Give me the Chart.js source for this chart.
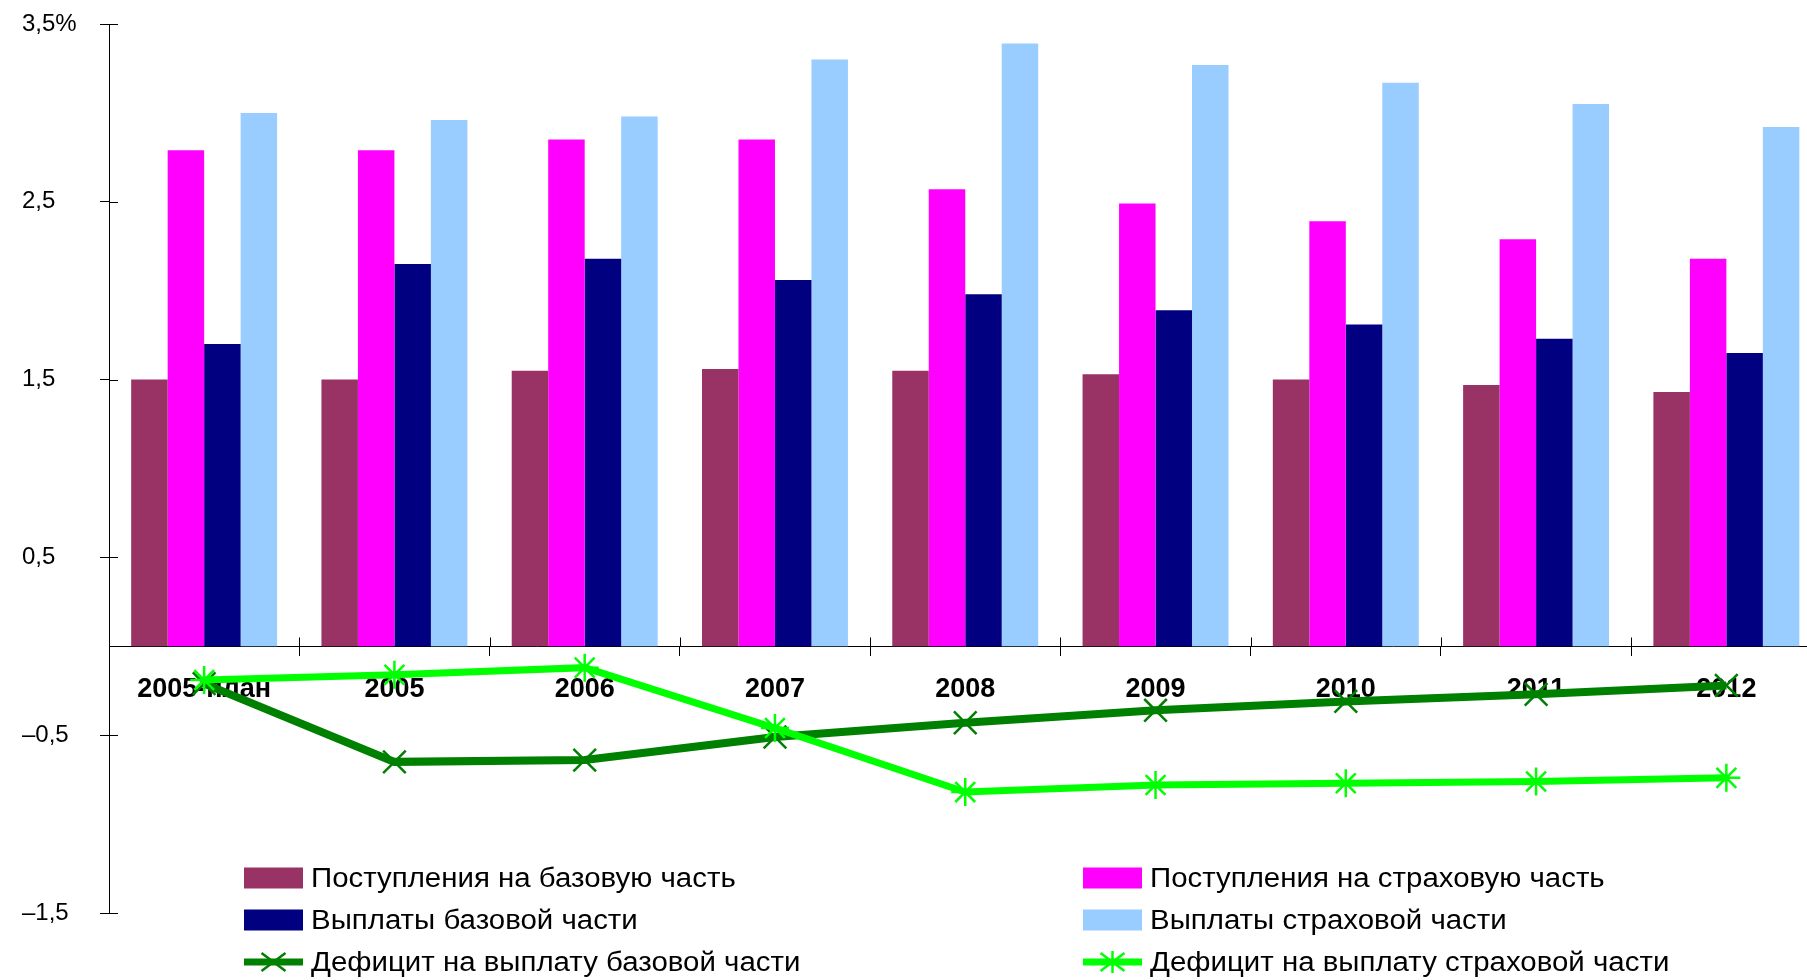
<!DOCTYPE html>
<html lang="ru">
<head>
<meta charset="utf-8">
<title>Поступления и выплаты, % ВВП</title>
<script src="https://cdn.jsdelivr.net/npm/chart.js@4/dist/chart.umd.min.js"></script>
<style>
  html, body { margin: 0; padding: 0; background: #fff; overflow: hidden; }
  #wrap { position: relative; width: 1840px; height: 980px; }
  #legend {
    position: absolute; left: 244px; top: 857px;
    display: grid; grid-template-columns: 839px auto;
    font-family: "Liberation Sans", Arial, sans-serif; font-size: 27px; color: #000;
  }
  .item { display: flex; align-items: center; height: 42px; }
  .item canvas { margin-right: 8px; }
  .item span { display: inline-block; white-space: nowrap; transform: scaleX(1.09); transform-origin: left center; }
</style>
</head>
<body>
<div id="wrap">
  <canvas id="chart" width="1840" height="980"></canvas>
  <div id="legend"></div>
</div>
<script>
const categories = ['2005-план', '2005', '2006', '2007', '2008', '2009', '2010', '2011', '2012'];

const incomeBase       = [1.50, 1.50, 1.55, 1.56, 1.55, 1.53, 1.50, 1.47, 1.43];
const incomeInsurance  = [2.79, 2.79, 2.85, 2.85, 2.57, 2.49, 2.39, 2.29, 2.18];
const payBase          = [1.70, 2.15, 2.18, 2.06, 1.98, 1.89, 1.81, 1.73, 1.65];
const payInsurance     = [3.00, 2.96, 2.98, 3.30, 3.39, 3.27, 3.17, 3.05, 2.92];
const deficitBase      = [-0.21, -0.65, -0.64, -0.51, -0.43, -0.36, -0.31, -0.27, -0.22];
const deficitInsurance = [-0.19, -0.16, -0.12, -0.46, -0.82, -0.78, -0.77, -0.76, -0.74];

const yTickValues = [-1.5, -0.5, 0.5, 1.5, 2.5, 3.5];
const yTickLabels = ['–1,5', '–0,5', '0,5', '1,5', '2,5', '3,5%'];

// short tick marks on the inner side of both axes
const innerTicks = {
  id: 'innerTicks',
  afterDraw(chart) {
    const { ctx, chartArea, scales: { x, y } } = chart;
    const len = 9;
    ctx.save();
    ctx.strokeStyle = '#000';
    ctx.lineWidth = 1;
    ctx.beginPath();
    y.ticks.forEach(t => {
      const py = Math.round(y.getPixelForValue(t.value)) + 0.5;
      ctx.moveTo(chartArea.left, py);
      ctx.lineTo(chartArea.left + len, py);
    });
    const zero = Math.round(y.getPixelForValue(0)) + 0.5;
    for (let i = 0; i <= categories.length; i++) {
      const px = Math.round(x.getPixelForValue(i - 0.5)) + 0.5;
      ctx.moveTo(px, zero);
      ctx.lineTo(px, zero - len);
    }
    ctx.stroke();
    ctx.restore();
  }
};

const myChart = new Chart(document.getElementById('chart'), {
  data: {
    labels: categories,
    datasets: [{
      type: 'bar', label: 'Поступления на базовую часть', data: incomeBase,
      backgroundColor: '#993366', order: 2
    }, {
      type: 'bar', label: 'Поступления на страховую часть', data: incomeInsurance,
      backgroundColor: '#ff00ff', order: 2
    }, {
      type: 'bar', label: 'Выплаты базовой части', data: payBase,
      backgroundColor: '#000080', order: 2
    }, {
      type: 'bar', label: 'Выплаты страховой части', data: payInsurance,
      backgroundColor: '#99ccff', order: 2
    }, {
      type: 'line', label: 'Дефицит на выплату базовой части', data: deficitBase,
      borderColor: '#008000', borderWidth: 8, tension: 0, fill: false,
      pointStyle: 'crossRot', pointRadius: 16, pointBorderWidth: 2.5,
      pointBorderColor: '#008000', pointBackgroundColor: '#008000', order: 1
    }, {
      type: 'line', label: 'Дефицит на выплату страховой части', data: deficitInsurance,
      borderColor: '#00ff00', borderWidth: 7, tension: 0, fill: false,
      pointStyle: 'star', pointRadius: 14, pointBorderWidth: 2.5,
      pointBorderColor: '#00ff00', pointBackgroundColor: '#00ff00', order: 0
    }]
  },
  options: {
    responsive: false,
    animation: false,
    layout: { padding: { left: 22, top: 24, bottom: 67, right: 0 } },
    datasets: { bar: { categoryPercentage: 0.767, barPercentage: 1.0, borderWidth: 0 } },
    plugins: { legend: { display: false }, tooltip: { enabled: false } },
    scales: {
      x: {
        position: { y: 0 },
        z: 1,
        afterFit: s => { s.height = 0; },
        border: { color: '#000', width: 1 },
        grid: { drawOnChartArea: false, drawTicks: true, tickLength: 9, color: '#000', offset: true },
        ticks: {
          color: '#000', padding: 18, maxRotation: 0, autoSkip: false,
          font: { family: '"Liberation Sans", Arial, sans-serif', size: 27, weight: 'bold' }
        }
      },
      y: {
        min: -1.5,
        max: 3.5,
        afterFit: s => { s.width = 87; },
        afterBuildTicks: s => { s.ticks = yTickValues.map(v => ({ value: v })); },
        border: { color: '#000', width: 1 },
        grid: { drawOnChartArea: false, drawTicks: true, tickLength: 9, color: '#000' },
        ticks: {
          color: '#000', crossAlign: 'far',
          font: { family: '"Liberation Sans", Arial, sans-serif', size: 24 },
          callback: v => yTickLabels[yTickValues.indexOf(v)]
        }
      }
    }
  },
  plugins: [innerTicks]
});

// legend in two columns below the lines
function drawSwatch(cv, ds) {
  const c = cv.getContext('2d');
  const w = cv.width, h = cv.height, cy = h / 2;
  if (ds.type === 'bar') {
    c.fillStyle = ds.backgroundColor;
    c.fillRect(0, cy - 10.5, w, 21);
    return;
  }
  c.strokeStyle = ds.borderColor;
  c.lineWidth = 7;
  c.beginPath();
  c.moveTo(0, cy);
  c.lineTo(w, cy);
  c.stroke();
  const cx = w / 2, dx = 12, dy = 9;
  c.lineWidth = ds.pointBorderWidth;
  c.beginPath();
  c.moveTo(cx - dx, cy - dy); c.lineTo(cx + dx, cy + dy);
  c.moveTo(cx - dx, cy + dy); c.lineTo(cx + dx, cy - dy);
  if (ds.pointStyle === 'star') {
    c.moveTo(cx, cy - 11); c.lineTo(cx, cy + 11);
  }
  c.stroke();
}

const legendBox = document.getElementById('legend');
myChart.data.datasets.forEach(ds => {
  const item = document.createElement('div');
  item.className = 'item';
  const cv = document.createElement('canvas');
  cv.width = 59;
  cv.height = 26;
  drawSwatch(cv, ds);
  const span = document.createElement('span');
  span.textContent = ds.label;
  item.appendChild(cv);
  item.appendChild(span);
  legendBox.appendChild(item);
});
</script>
</body>
</html>
